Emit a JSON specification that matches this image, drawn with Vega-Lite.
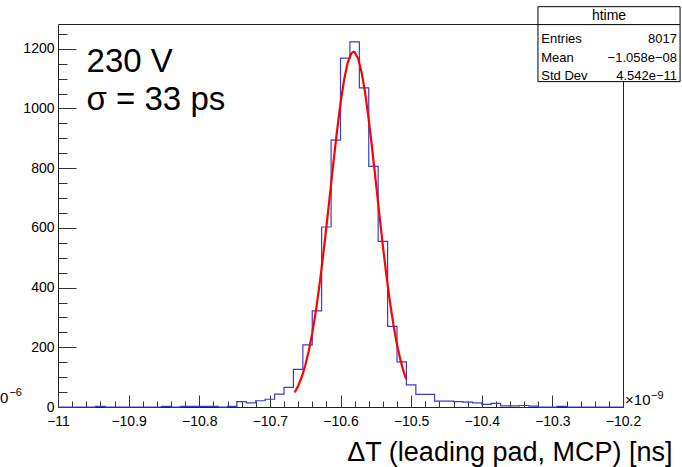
{
  "$schema": "https://vega.github.io/schema/vega-lite/v6.json",
  "autosize": {"type": "none"},
  "padding": {"left": 58, "top": 24, "right": 59, "bottom": 60},
  "width": 565,
  "height": 383,
  "background": "white",
  "data": {"values": [{}]},
  "config": {
    "font": "Liberation Sans",
    "view": {"stroke": "#222", "strokeWidth": 1},
    "axis": {"grid": false, "domain": false, "tickColor": "#333", "labelColor": "#000", "labelFont": "Liberation Sans", "labelFontSize": 14, "labelFlush": false, "labelOverlap": false}
  },
  "datasets": {
    "hist": [
      {"t": -11.0, "n": 0}, {"t": -10.9867, "n": 0}, {"t": -10.9733, "n": 0}, {"t": -10.96, "n": 0},
      {"t": -10.9467, "n": 2}, {"t": -10.9333, "n": 0}, {"t": -10.92, "n": 0}, {"t": -10.9067, "n": 0},
      {"t": -10.8933, "n": 0}, {"t": -10.88, "n": 0}, {"t": -10.8667, "n": 0}, {"t": -10.8533, "n": 2},
      {"t": -10.84, "n": 0}, {"t": -10.8267, "n": 2}, {"t": -10.8133, "n": 2}, {"t": -10.8, "n": 2},
      {"t": -10.7867, "n": 2}, {"t": -10.7733, "n": 0}, {"t": -10.76, "n": 2}, {"t": -10.7467, "n": 18},
      {"t": -10.7333, "n": 14}, {"t": -10.72, "n": 21}, {"t": -10.7067, "n": 26}, {"t": -10.6933, "n": 43},
      {"t": -10.68, "n": 66}, {"t": -10.6667, "n": 126}, {"t": -10.6533, "n": 208}, {"t": -10.64, "n": 322},
      {"t": -10.6267, "n": 603}, {"t": -10.6133, "n": 894}, {"t": -10.6, "n": 1169}, {"t": -10.5867, "n": 1223},
      {"t": -10.5733, "n": 1069}, {"t": -10.56, "n": 806}, {"t": -10.5467, "n": 555}, {"t": -10.5333, "n": 270},
      {"t": -10.52, "n": 151}, {"t": -10.5067, "n": 74}, {"t": -10.4933, "n": 42}, {"t": -10.48, "n": 42},
      {"t": -10.4667, "n": 20}, {"t": -10.4533, "n": 20}, {"t": -10.44, "n": 18}, {"t": -10.4267, "n": 16},
      {"t": -10.4133, "n": 14}, {"t": -10.4, "n": 9}, {"t": -10.3867, "n": 12}, {"t": -10.3733, "n": 4},
      {"t": -10.36, "n": 4}, {"t": -10.3467, "n": 5}, {"t": -10.3333, "n": 3}, {"t": -10.32, "n": 0},
      {"t": -10.3067, "n": 0}, {"t": -10.2933, "n": 2}, {"t": -10.28, "n": 0}, {"t": -10.2667, "n": 0},
      {"t": -10.2533, "n": 0}, {"t": -10.24, "n": 0}, {"t": -10.2267, "n": 0}, {"t": -10.2133, "n": 0},
      {"t": -10.2, "n": 0}
    ],
    "fit": [
      {"t": -10.665, "f": 48.5}, {"t": -10.66, "f": 70.3}, {"t": -10.655, "f": 99.6}, {"t": -10.65, "f": 138.0},
      {"t": -10.645, "f": 186.9}, {"t": -10.64, "f": 247.3}, {"t": -10.635, "f": 319.8}, {"t": -10.63, "f": 404.1},
      {"t": -10.625, "f": 499.2}, {"t": -10.62, "f": 602.5}, {"t": -10.615, "f": 710.8}, {"t": -10.61, "f": 819.6},
      {"t": -10.605, "f": 923.5}, {"t": -10.6, "f": 1017.0}, {"t": -10.595, "f": 1094.5}, {"t": -10.59, "f": 1151.1},
      {"t": -10.585, "f": 1183.3}, {"t": -10.5815, "f": 1190.0}, {"t": -10.58, "f": 1188.8}, {"t": -10.575, "f": 1167.1},
      {"t": -10.57, "f": 1119.9}, {"t": -10.565, "f": 1050.2}, {"t": -10.56, "f": 962.4}, {"t": -10.555, "f": 862.0},
      {"t": -10.55, "f": 754.6}, {"t": -10.545, "f": 645.4}, {"t": -10.54, "f": 539.7}, {"t": -10.535, "f": 441.0},
      {"t": -10.53, "f": 352.2}, {"t": -10.525, "f": 274.8}, {"t": -10.52, "f": 209.6}, {"t": -10.515, "f": 156.2},
      {"t": -10.51, "f": 113.8}, {"t": -10.507, "f": 93.1}
    ]
  },
  "resolve": {"axis": {"x": "independent", "y": "independent"}},
  "layer": [
    {
      "data": {"name": "hist"},
      "mark": {"type": "line", "interpolate": "step-after", "color": "#3c3ccc", "strokeWidth": 1.2},
      "encoding": {
        "x": {"field": "t", "type": "quantitative",
              "scale": {"domain": [-11, -10.2], "nice": false, "zero": false},
              "axis": {"orient": "bottom", "values": [-11, -10.9, -10.8, -10.7, -10.6, -10.5, -10.4, -10.3, -10.2],
                       "format": ".1~f", "tickSize": -12, "labelPadding": 19,
                       "title": "ΔT (leading pad, MCP) [ns]", "titleFontSize": 27, "titleFontWeight": "normal",
                       "titleColor": "#000", "titleFont": "Liberation Sans",
                       "titleAnchor": "end", "titleAlign": "right", "titleBaseline": "alphabetic",
                       "titleX": 614, "titleY": 53}},
        "y": {"field": "n", "type": "quantitative",
              "scale": {"domain": [0, 1283], "nice": false},
              "axis": {"orient": "left", "values": [0, 200, 400, 600, 800, 1000, 1200], "format": "d",
                       "tickSize": -18, "labelPadding": 22, "title": null}}
      }
    },
    {
      "data": {"name": "fit"},
      "mark": {"type": "line", "color": "#ff0000", "strokeWidth": 2.2},
      "encoding": {
        "x": {"field": "t", "type": "quantitative",
              "axis": {"orient": "bottom", "values": [-11, -10.98, -10.96, -10.94, -10.92, -10.9, -10.88, -10.86, -10.84, -10.82, -10.8, -10.78, -10.76, -10.74, -10.72, -10.7, -10.68, -10.66, -10.64, -10.62, -10.6, -10.58, -10.56, -10.54, -10.52, -10.5, -10.48, -10.46, -10.44, -10.42, -10.4, -10.38, -10.36, -10.34, -10.32, -10.3, -10.28, -10.26, -10.24, -10.22, -10.2],
                       "tickSize": -6, "labels": false, "title": null}},
        "y": {"field": "f", "type": "quantitative",
              "axis": {"orient": "left", "values": [0, 50, 100, 150, 200, 250, 300, 350, 400, 450, 500, 550, 600, 650, 700, 750, 800, 850, 900, 950, 1000, 1050, 1100, 1150, 1200, 1250],
                       "tickSize": -9, "labels": false, "title": null}}
      }
    },
    {
      "mark": {"type": "text", "align": "left", "baseline": "alphabetic", "fontSize": 33, "font": "Liberation Sans", "color": "#000"},
      "encoding": {
        "x": {"datum": -10.9596, "axis": null},
        "y": {"datum": 1123, "axis": null},
        "text": {"value": "230 V"}
      }
    },
    {
      "mark": {"type": "text", "align": "left", "baseline": "alphabetic", "fontSize": 33, "font": "Liberation Sans", "color": "#000"},
      "encoding": {
        "x": {"datum": -10.9596, "axis": null},
        "y": {"datum": 996, "axis": null},
        "text": {"value": "σ = 33 ps"}
      }
    },
    {
      "mark": {"type": "rect", "fill": "white", "stroke": "#000", "strokeWidth": 1},
      "encoding": {
        "x": {"datum": -10.3204, "axis": null},
        "x2": {"datum": -10.1192},
        "y": {"datum": 1341, "axis": null},
        "y2": {"datum": 1090}
      }
    },
    {
      "mark": {"type": "rule", "stroke": "#000", "strokeWidth": 1},
      "encoding": {
        "x": {"datum": -10.3204, "axis": null},
        "x2": {"datum": -10.1192},
        "y": {"datum": 1281, "axis": null}
      }
    },
    {
      "mark": {"type": "text", "align": "center", "baseline": "alphabetic", "fontSize": 14, "font": "Liberation Sans", "color": "#000"},
      "encoding": {
        "x": {"datum": -10.2198, "axis": null},
        "y": {"datum": 1295, "axis": null},
        "text": {"value": "htime"}
      }
    },
    {
      "mark": {"type": "text", "align": "left", "baseline": "alphabetic", "fontSize": 13, "font": "Liberation Sans", "color": "#000"},
      "encoding": {
        "x": {"datum": -10.3157, "axis": null},
        "y": {"datum": 1221, "axis": null},
        "text": {"value": "Entries"}
      }
    },
    {
      "mark": {"type": "text", "align": "right", "baseline": "alphabetic", "fontSize": 13, "font": "Liberation Sans", "color": "#000"},
      "encoding": {
        "x": {"datum": -10.1235, "axis": null},
        "y": {"datum": 1221, "axis": null},
        "text": {"value": "8017"}
      }
    },
    {
      "mark": {"type": "text", "align": "left", "baseline": "alphabetic", "fontSize": 13, "font": "Liberation Sans", "color": "#000"},
      "encoding": {
        "x": {"datum": -10.3157, "axis": null},
        "y": {"datum": 1157, "axis": null},
        "text": {"value": "Mean"}
      }
    },
    {
      "mark": {"type": "text", "align": "right", "baseline": "alphabetic", "fontSize": 13, "font": "Liberation Sans", "color": "#000"},
      "encoding": {
        "x": {"datum": -10.1235, "axis": null},
        "y": {"datum": 1157, "axis": null},
        "text": {"value": "−1.058e−08"}
      }
    },
    {
      "mark": {"type": "text", "align": "left", "baseline": "alphabetic", "fontSize": 13, "font": "Liberation Sans", "color": "#000"},
      "encoding": {
        "x": {"datum": -10.3157, "axis": null},
        "y": {"datum": 1097, "axis": null},
        "text": {"value": "Std Dev"}
      }
    },
    {
      "mark": {"type": "text", "align": "right", "baseline": "alphabetic", "fontSize": 13, "font": "Liberation Sans", "color": "#000"},
      "encoding": {
        "x": {"datum": -10.1235, "axis": null},
        "y": {"datum": 1097, "axis": null},
        "text": {"value": "4.542e−11"}
      }
    },
    {
      "mark": {"type": "text", "align": "left", "baseline": "alphabetic", "fontSize": 15, "font": "Liberation Sans", "color": "#000"},
      "encoding": {
        "x": {"datum": -10.1971, "axis": null},
        "y": {"datum": 6, "axis": null},
        "text": {"value": "×10"}
      }
    },
    {
      "mark": {"type": "text", "align": "left", "baseline": "alphabetic", "fontSize": 11, "font": "Liberation Sans", "color": "#000", "dx": 26},
      "encoding": {
        "x": {"datum": -10.1971, "axis": null},
        "y": {"datum": 28, "axis": null},
        "text": {"value": "−9"}
      }
    },
    {
      "mark": {"type": "text", "align": "right", "baseline": "alphabetic", "fontSize": 15, "font": "Liberation Sans", "color": "#000"},
      "encoding": {
        "x": {"datum": -11.0702, "axis": null},
        "y": {"datum": 13, "axis": null},
        "text": {"value": "×10"}
      }
    },
    {
      "mark": {"type": "text", "align": "left", "baseline": "alphabetic", "fontSize": 11, "font": "Liberation Sans", "color": "#000", "dx": 1},
      "encoding": {
        "x": {"datum": -11.0702, "axis": null},
        "y": {"datum": 37, "axis": null},
        "text": {"value": "−6"}
      }
    }
  ]
}
